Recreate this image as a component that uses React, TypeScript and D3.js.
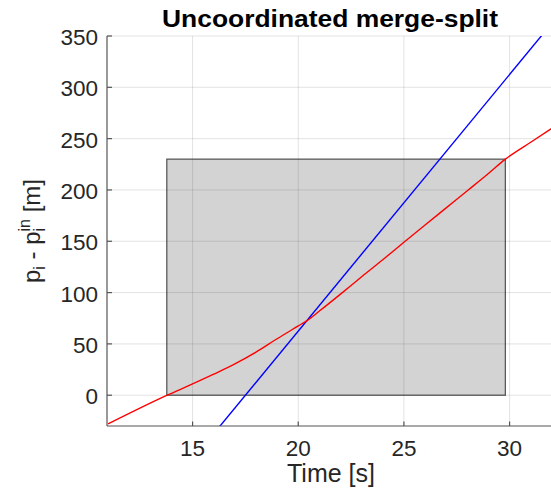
import React from "react";
import * as d3 from "d3";

const xTicks = [15, 20, 25, 30];
const yTicks = [0, 50, 100, 150, 200, 250, 300, 350];
const xDomain = [10.95, 31.96];
const yDomain = [-30, 350];

const redT = [11, 13.8, 15.0, 16.0, 17.0, 18.0, 19.0, 20.0, 20.4, 21.0, 22.0, 23.0, 24.0, 25.0, 26.0, 27.0, 28.0, 29.0, 29.8, 31.0, 32.0];
const redY = [-28, 0, 11, 20.5, 30.5, 42, 55, 67.5, 72.5, 82, 98.5, 115.5, 132, 149, 165.8, 182.5, 199.2, 216, 230, 246.5, 260];

const blueT = [16.0, 32.0];
const blueY = [-37.5, 362.5];

const rectT = [13.78, 29.8];
const rectY = [0, 230];

const W = 551, H = 493;
const L = 107, R = 551, T = 36, B = 426;
const font = "'Liberation Sans', Arial, Helvetica, sans-serif";

export default function App() {
  const x = d3.scaleLinear().domain(xDomain).range([L, R]);
  const y = d3.scaleLinear().domain(yDomain).range([B, T]);
  const line = d3
    .line<[number, number]>()
    .x((d) => x(d[0]))
    .y((d) => y(d[1]))
    .curve(d3.curveMonotoneX);
  const redPath = line(redT.map((t, i) => [t, redY[i]] as [number, number])) || "";
  const bluePath =
    d3
      .line<[number, number]>()
      .x((d) => x(d[0]))
      .y((d) => y(d[1]))(blueT.map((t, i) => [t, blueY[i]] as [number, number])) || "";
  const gridStroke = "#262626";
  return (
    <svg
      width={W}
      height={H}
      style={{ position: "absolute", left: 0, top: 0, background: "#fff" }}
      fontFamily={font}
    >
      <defs>
        <clipPath id="plotclip">
          <rect x={L} y={T} width={R - L} height={B - T} />
        </clipPath>
      </defs>
      <rect x={L} y={T} width={R - L} height={B - T} fill="#fff" />
      <rect
        x={x(rectT[0])}
        y={y(rectY[1])}
        width={x(rectT[1]) - x(rectT[0])}
        height={y(rectY[0]) - y(rectY[1])}
        fill="#d3d3d3"
        stroke="#5a5a5a"
        strokeWidth={1.3}
      />
      <g stroke={gridStroke} strokeOpacity={0.13} strokeWidth={1}>
        {xTicks.map((t) => (
          <line key={"gx" + t} x1={x(t)} x2={x(t)} y1={T} y2={B} />
        ))}
        {yTicks.map((t) => (
          <line key={"gy" + t} x1={L} x2={R} y1={y(t)} y2={y(t)} />
        ))}
      </g>
      <g clipPath="url(#plotclip)">
        <path d={bluePath} fill="none" stroke="#0000ff" strokeWidth={1.4} />
        <path d={redPath} fill="none" stroke="#ff0000" strokeWidth={1.4} />
      </g>
      <g stroke="#555" strokeWidth={1.2}>
        <line x1={L} x2={L} y1={T} y2={B} />
        <line x1={L} x2={R} y1={B} y2={B} />
        {xTicks.map((t) => (
          <line key={"tx" + t} x1={x(t)} x2={x(t)} y1={B} y2={B - 4.5} />
        ))}
        {yTicks.map((t) => (
          <line key={"ty" + t} x1={L} x2={L + 5} y1={y(t)} y2={y(t)} />
        ))}
      </g>
      <g fill="#262626" fontSize={22.5}>
        {yTicks.map((t) => (
          <text key={"ly" + t} x={98} y={y(t) + 9} textAnchor="end">
            {t}
          </text>
        ))}
        {xTicks.map((t) => (
          <text key={"lx" + t} x={x(t)} y={456} textAnchor="middle">
            {t}
          </text>
        ))}
      </g>
      <text
        x={(L + R) / 2 + 1}
        y={27}
        textAnchor="middle"
        fontWeight="bold"
        fontSize={23}
        fill="#000"
        textLength={336}
        lengthAdjust="spacingAndGlyphs"
      >
        Uncoordinated merge-split
      </text>
      <text x={331} y={482} textAnchor="middle" fontSize={25} fill="#262626">
        Time [s]
      </text>
      <g transform={`translate(40, ${(T + B) / 2}) rotate(-90)`}>
        <text x={0} y={0} textAnchor="middle" fontSize={24} fill="#262626">
          p<tspan fontSize={16} dy={5}>i</tspan>
          <tspan dy={-5}> - p</tspan>
          <tspan fontSize={16} dy={5}>i</tspan>
          <tspan fontSize={16} dx={-3.6} dy={-15}>in</tspan>
          <tspan dy={10}> [m]</tspan>
        </text>
      </g>
    </svg>
  );
}
